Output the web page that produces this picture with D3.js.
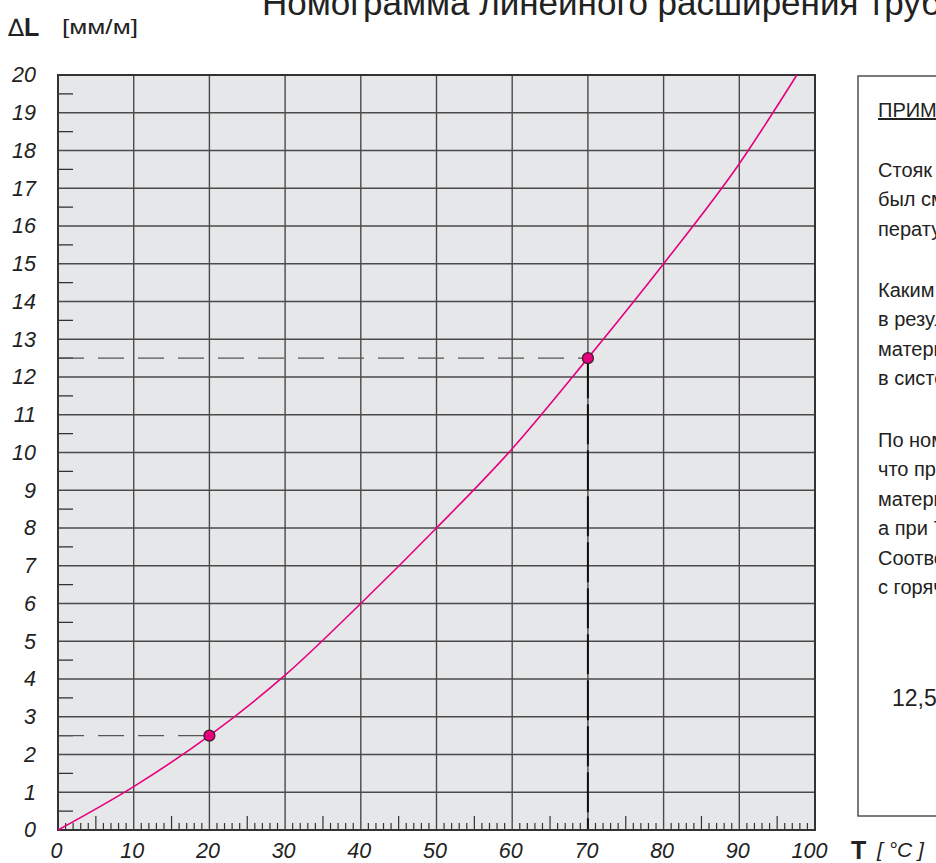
<!DOCTYPE html>
<html>
<head>
<meta charset="utf-8">
<script src="https://cdn.jsdelivr.net/npm/d3@7/dist/d3.min.js"></script>
<style>
  html, body { margin: 0; padding: 0; background: #fff; }
  svg { display: block; font-family: "Liberation Sans", Arial, sans-serif; }
</style>
</head>
<body>
<svg id="chart" width="936" height="863"></svg>
<script>
// Nomogram: linear expansion of pipe (mm per metre) vs. temperature
const temperature = [0, 10, 20, 30, 40, 50, 60, 70, 80, 90, 97.6];
const expansion   = [0, 1.15, 2.5, 4.1, 6.0, 8.0, 10.1, 12.5, 15.0, 17.65, 20];

// worked example
const exampleT  = [20, 70];
const exampleDL = [2.5, 12.5];

const xTicks = [0, 10, 20, 30, 40, 50, 60, 70, 80, 90, 100];
const yTicks = [0, 1, 2, 3, 4, 5, 6, 7, 8, 9, 10, 11, 12, 13, 14, 15, 16, 17, 18, 19, 20];

const titleText = "Номограмма линейного расширения труб из полипропилена";
const noteTitle = "ПРИМЕР";
const noteParagraphs = [
  ["Стояк из полипропиленовых труб", "был смонтирован при тем-", "пературе 20 °C."],
  ["Каким будет удлинение трубы", "в результате нагрева", "материала до температуры", "в системе 70 °C?"],
  ["По номограмме определяем,", "что при 20 °C удлинение", "материала составит 2,5 мм/м,", "а при 70 °C — 12,5 мм/м.", "Соответственно удлинение трубы", "с горячей водой составит:"]
];
const noteResult = "12,5 − 2,5 = 10 мм/м";

const svg = d3.select("#chart");

const x = d3.scaleLinear().domain([0, 100]).range([58, 815]);
const y = d3.scaleLinear().domain([0, 20]).range([830, 75]);

// title (runs past the top edge)
svg.append("text")
  .attr("x", 262).attr("y", 15)
  .attr("font-size", 35).attr("fill", "#222")
  .text(titleText);

// y axis caption
const yCap = svg.append("text").attr("x", 8).attr("y", 36).attr("fill", "#222");
yCap.append("tspan").attr("font-size", 24).attr("font-family", "DejaVu Sans, sans-serif").text("∆");
yCap.append("tspan").attr("font-size", 25).attr("font-weight", "bold").text("L");
svg.append("text").attr("x", 62).attr("y", 34).attr("font-size", 21).attr("fill", "#222")
  .attr("textLength", 76).attr("lengthAdjust", "spacingAndGlyphs").text("[мм/м]");

// plot background
svg.append("rect")
  .attr("x", x(0)).attr("y", y(20))
  .attr("width", x(100) - x(0)).attr("height", y(0) - y(20))
  .attr("fill", "#e6e7e9");

// grid
const grid = svg.append("g").attr("stroke", "#4a4a4a").attr("stroke-width", 1.4);
grid.selectAll("line.v").data(xTicks.slice(1, -1)).join("line")
  .attr("x1", d => x(d)).attr("x2", d => x(d))
  .attr("y1", y(20)).attr("y2", y(0));
grid.selectAll("line.h").data(yTicks.slice(1, -1)).join("line")
  .attr("x1", x(0)).attr("x2", x(100))
  .attr("y1", d => y(d)).attr("y2", d => y(d));

// half-unit ticks on the left edge
const halfTicks = d3.range(0.5, 20, 1);
svg.append("g").attr("stroke", "#333").attr("stroke-width", 1.3)
  .selectAll("line").data(halfTicks).join("line")
  .attr("x1", x(0)).attr("x2", x(0) + 15)
  .attr("y1", d => y(d)).attr("y2", d => y(d));

// degree ticks along the bottom edge
const degTicks = d3.range(1, 100).filter(d => d % 10 !== 0);
svg.append("g").attr("stroke", "#333").attr("stroke-width", 1.2)
  .selectAll("line").data(degTicks).join("line")
  .attr("x1", d => x(d)).attr("x2", d => x(d))
  .attr("y1", y(0)).attr("y2", d => y(0) - (d % 5 === 0 ? 14 : 7));

// dashed guide lines of the example
const guides = svg.append("g");
guides.selectAll("line.hg").data(exampleT).join("line")
  .attr("x1", x(0)).attr("x2", (d) => x(d))
  .attr("y1", (d, i) => y(exampleDL[i])).attr("y2", (d, i) => y(exampleDL[i]))
  .attr("stroke", "#555").attr("stroke-width", 1.4).attr("stroke-dasharray", "26,14");
// drop line from the upper reading down to the temperature axis
guides.append("line")
  .attr("x1", x(exampleT[1])).attr("x2", x(exampleT[1]))
  .attr("y1", y(exampleDL[1])).attr("y2", y(0))
  .attr("stroke", "#111").attr("stroke-width", 2).attr("stroke-dasharray", "40,6");

// plot border
svg.append("rect")
  .attr("x", x(0)).attr("y", y(20))
  .attr("width", x(100) - x(0)).attr("height", y(0) - y(20))
  .attr("fill", "none").attr("stroke", "#333").attr("stroke-width", 2);

// expansion curve
const pts = temperature.map((t, i) => [t, expansion[i]]);
svg.append("path")
  .datum(pts)
  .attr("fill", "none").attr("stroke", "#e6007e").attr("stroke-width", 1.6)
  .attr("d", d3.line().x(d => x(d[0])).y(d => y(d[1])).curve(d3.curveMonotoneX));

// example points
svg.append("g").selectAll("circle").data(exampleT).join("circle")
  .attr("cx", d => x(d)).attr("cy", (d, i) => y(exampleDL[i]))
  .attr("r", 5.5).attr("fill", "#e6007e").attr("stroke", "#3a1a2a").attr("stroke-width", 1.2);

// axes labels
const yAxis = svg.append("g").attr("transform", `translate(${x(0)},0)`)
  .call(d3.axisLeft(y).tickValues(yTicks).tickSize(0).tickPadding(22).tickFormat(d3.format("d")));
yAxis.select(".domain").remove();
yAxis.selectAll("text").attr("font-size", 21.5).attr("font-style", "italic")
  .attr("font-family", "Liberation Sans, Arial, sans-serif").attr("fill", "#222");

const xAxis = svg.append("g").attr("transform", `translate(0,${y(0)})`)
  .call(d3.axisBottom(x).tickValues(xTicks).tickSize(0).tickPadding(13).tickFormat(d3.format("d")));
xAxis.select(".domain").remove();
xAxis.selectAll("text").attr("font-size", 21.5).attr("font-style", "italic")
  .attr("font-family", "Liberation Sans, Arial, sans-serif").attr("fill", "#222")
  .attr("dx", d => d === 100 ? -6 : -2);

// x axis caption
svg.append("text").attr("x", 851).attr("y", 859).attr("font-size", 25).attr("font-weight", "bold")
  .attr("fill", "#222").text("T");
svg.append("text").attr("x", 877).attr("y", 857).attr("font-size", 21).attr("font-style", "italic")
  .attr("fill", "#222").text("[ °C ]");

// example note box
svg.append("rect").attr("x", 858).attr("y", 76).attr("width", 200).attr("height", 740)
  .attr("fill", "#fff").attr("stroke", "#444").attr("stroke-width", 1.4);

const note = svg.append("g").attr("fill", "#222").attr("font-size", 20);
note.append("text").attr("x", 878).attr("y", 117).attr("text-decoration", "underline").text(noteTitle);
const starts = [177, 297, 447];
noteParagraphs.forEach((lines, p) => {
  note.append("g").selectAll("text").data(lines).join("text")
    .attr("x", 878).attr("y", (d, i) => starts[p] + i * 29.4)
    .text(d => d);
});
note.append("text").attr("x", 892).attr("y", 706).attr("font-size", 23).text(noteResult);
</script>
</body>
</html>
